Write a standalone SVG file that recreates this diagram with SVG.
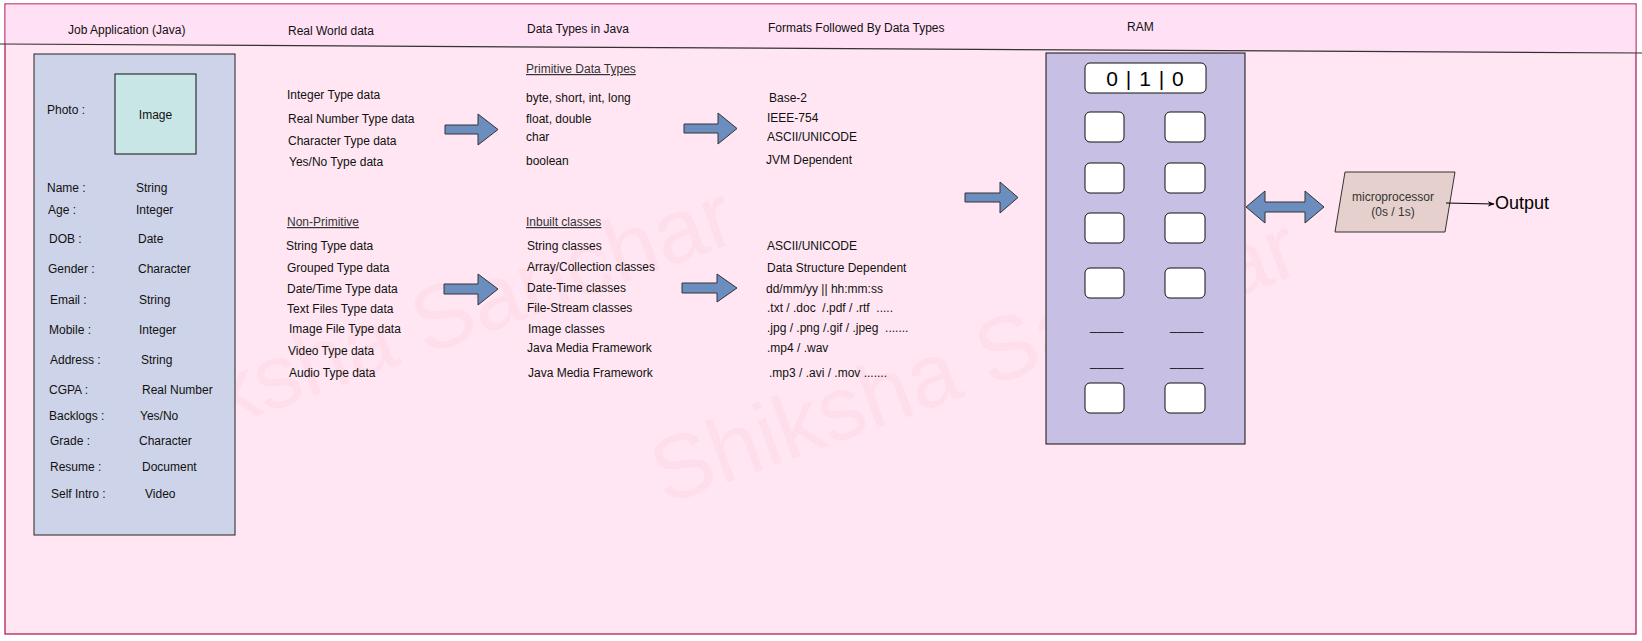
<svg xmlns="http://www.w3.org/2000/svg" width="1642" height="641" viewBox="0 0 1642 641">
<defs>
<style>
.t{font-family:"Liberation Sans",Arial,sans-serif;font-size:12px;fill:#111}
.u{text-decoration:underline;fill:#333}
.c{text-anchor:middle}
.pre{white-space:pre}
.blk{fill:#6C8EBF;stroke:#333;stroke-width:1}
.cell{fill:#fff;stroke:#111;stroke-width:1}
.wm{font-family:"Liberation Sans",Arial,sans-serif;font-size:90px;fill:#FDDEEA}
</style>
<marker id="ah" viewBox="0 0 10 10" refX="9" refY="5" markerWidth="7" markerHeight="7" orient="auto" markerUnits="userSpaceOnUse">
<path d="M0,1 L10,5 L0,9 L3,5 Z" fill="#000"/>
</marker>
</defs>

<g id="background">
<rect x="5" y="4" width="1631" height="630" fill="#FFE6F2" stroke="#B0104D" stroke-width="1.2"/>
<polygon points="5.6,4.6 1635.4,4.6 1635.4,53 5.6,44" fill="#FFE0F5"/>
<line x1="0" y1="44" x2="1642" y2="53" stroke="#333" stroke-width="1.2"/>
</g>

<g id="watermark">
<text class="wm" x="101" y="473" transform="rotate(-20 101 473)">Shiksha Sanchar</text>
<text class="wm" x="665" y="505" transform="rotate(-20 665 505)">Shiksha Sanchar</text>
</g>

<g id="headers">
<text class="t" x="68" y="34">Job Application (Java)</text>
<text class="t" x="288" y="35">Real World data</text>
<text class="t" x="527" y="33">Data Types in Java</text>
<text class="t" x="768" y="32">Formats Followed By Data Types</text>
<text class="t" x="1127" y="31">RAM</text>
</g>

<g id="job-application">
<rect x="34" y="54" width="201" height="481" fill="#CDD3E8" stroke="#222" stroke-width="1"/>
<rect x="115" y="74" width="81" height="80" fill="#C8E6E6" stroke="#111" stroke-width="1"/>
<text class="t c" x="155.5" y="119">Image</text>
<text class="t" x="47" y="114">Photo :</text>
<text class="t" x="47" y="192">Name :</text><text class="t" x="136" y="192">String</text>
<text class="t" x="48" y="214">Age :</text><text class="t" x="136" y="214">Integer</text>
<text class="t" x="49" y="243">DOB :</text><text class="t" x="138" y="243">Date</text>
<text class="t" x="48" y="273">Gender :</text><text class="t" x="138" y="273">Character</text>
<text class="t" x="50" y="304">Email :</text><text class="t" x="139" y="304">String</text>
<text class="t" x="49" y="334">Mobile :</text><text class="t" x="139" y="334">Integer</text>
<text class="t" x="50" y="364">Address :</text><text class="t" x="141" y="364">String</text>
<text class="t" x="49" y="394">CGPA :</text><text class="t" x="142" y="394">Real Number</text>
<text class="t" x="49" y="420">Backlogs :</text><text class="t" x="140" y="420">Yes/No</text>
<text class="t" x="50" y="445">Grade :</text><text class="t" x="139" y="445">Character</text>
<text class="t" x="50" y="471">Resume :</text><text class="t" x="142" y="471">Document</text>
<text class="t" x="51" y="498">Self Intro :</text><text class="t" x="145" y="498">Video</text>
</g>

<g id="real-world-data">
<text class="t" x="287" y="99">Integer Type data</text>
<text class="t" x="288" y="123">Real Number Type data</text>
<text class="t" x="288" y="145">Character Type data</text>
<text class="t" x="289" y="166">Yes/No Type data</text>
<text class="t u" x="287" y="226">Non-Primitive</text>
<text class="t" x="286" y="250">String Type data</text>
<text class="t" x="287" y="272">Grouped Type data</text>
<text class="t" x="287" y="293">Date/Time Type data</text>
<text class="t" x="287" y="313">Text Files Type data</text>
<text class="t" x="289" y="333">Image File Type data</text>
<text class="t" x="288" y="355">Video Type data</text>
<text class="t" x="289" y="377">Audio Type data</text>
</g>

<g id="data-types">
<text class="t u" x="526" y="73">Primitive Data Types</text>
<text class="t" x="526" y="102">byte, short, int, long</text>
<text class="t" x="526" y="123">float, double</text>
<text class="t" x="526" y="141">char</text>
<text class="t" x="526" y="165">boolean</text>
<text class="t u" x="526" y="226">Inbuilt classes</text>
<text class="t" x="527" y="250">String classes</text>
<text class="t" x="527" y="271">Array/Collection classes</text>
<text class="t" x="527" y="292">Date-Time classes</text>
<text class="t" x="527" y="312">File-Stream classes</text>
<text class="t" x="528" y="333">Image classes</text>
<text class="t" x="527" y="352">Java Media Framework</text>
<text class="t" x="528" y="377">Java Media Framework</text>
</g>

<g id="formats">
<text class="t" x="769" y="102">Base-2</text>
<text class="t" x="767" y="122">IEEE-754</text>
<text class="t" x="767" y="141">ASCII/UNICODE</text>
<text class="t" x="766" y="164">JVM Dependent</text>
<text class="t" x="767" y="250">ASCII/UNICODE</text>
<text class="t" x="767" y="272">Data Structure Dependent</text>
<text class="t" x="766" y="293">dd/mm/yy || hh:mm:ss</text>
<text class="t pre" x="767" y="312">.txt / .doc  /.pdf / .rtf  .....</text>
<text class="t pre" x="767" y="332">.jpg / .png /.gif / .jpeg  .......</text>
<text class="t" x="767" y="352">.mp4 / .wav</text>
<text class="t" x="769" y="377">.mp3 / .avi / .mov .......</text>
</g>

<g id="ram">
<rect x="1046" y="53" width="199" height="391" fill="#C8C0E4" stroke="#111" stroke-width="1"/>
<rect class="cell" x="1085" y="63" width="121" height="30" rx="5"/>
<text x="1145.5" y="86" text-anchor="middle" style="font-family:'Liberation Sans',Arial,sans-serif;font-size:21px;fill:#000;letter-spacing:1px">0 | 1 | 0</text>
<rect class="cell" x="1085" y="112" width="39" height="30" rx="5"/>
<rect class="cell" x="1165" y="112" width="40" height="30" rx="5"/>
<rect class="cell" x="1085" y="163" width="39" height="30" rx="5"/>
<rect class="cell" x="1165" y="163" width="40" height="30" rx="5"/>
<rect class="cell" x="1085" y="213" width="39" height="30" rx="5"/>
<rect class="cell" x="1165" y="213" width="40" height="30" rx="5"/>
<rect class="cell" x="1085" y="268" width="39" height="30" rx="5"/>
<rect class="cell" x="1165" y="268" width="40" height="30" rx="5"/>
<text class="t" x="1090" y="330">_____</text>
<text class="t" x="1170" y="330">_____</text>
<text class="t" x="1090" y="366">_____</text>
<text class="t" x="1170" y="366">_____</text>
<rect class="cell" x="1085" y="383" width="39" height="30" rx="5"/>
<rect class="cell" x="1165" y="383" width="40" height="30" rx="5"/>
</g>

<g id="microprocessor">
<polygon points="1345,172 1455,172 1445,232 1335,232" fill="#E6D0CE" stroke="#333" stroke-width="1"/>
<text class="t c" x="1393" y="201" style="fill:#333">microprocessor</text>
<text class="t c" x="1393" y="216" style="fill:#333">(0s / 1s)</text>
</g>

<g id="output">
<text x="1495" y="209" style="font-family:'Liberation Sans',Arial,sans-serif;font-size:18px;fill:#000">Output</text>
</g>

<g id="connectors">
<path class="blk" d="M445,125 H478 V114 L498,129.5 L478,145 V134 H445 Z"/>
<path class="blk" d="M684,124 H718 V113 L737,128.5 L718,144 V133 H684 Z"/>
<path class="blk" d="M444,284 H478 V274 L498,289 L478,305 V294 H444 Z"/>
<path class="blk" d="M682,283 H717 V274 L737,288 L717,302 V293 H682 Z"/>
<path class="blk" d="M965,193 H1000 V182 L1018,197.5 L1000,213 V202 H965 Z"/>
<path class="blk" d="M1246,207 L1265,191 V202 H1305 V191 L1324,207 L1305,223 V212 H1265 V223 Z"/>
<line x1="1446" y1="203" x2="1494" y2="204" stroke="#000" stroke-width="1" marker-end="url(#ah)"/>
</g>
</svg>
